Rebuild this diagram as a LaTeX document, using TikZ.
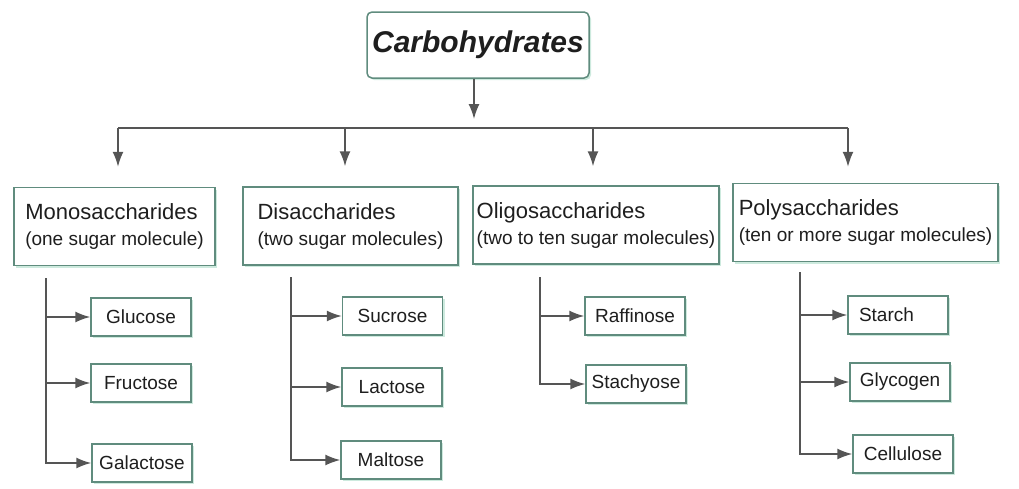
\documentclass[tikz,border=0pt]{standalone}
\usepackage{fontspec}
\setmainfont{Liberation Sans}
\usepackage{xcolor}
\usetikzlibrary{positioning, arrows.meta, shadows}
\definecolor{boxline}{RGB}{96,140,126}
\definecolor{shade}{RGB}{205,234,222}
\definecolor{wire}{RGB}{85,85,85}
\definecolor{ink}{RGB}{30,30,30}
\tikzset{
	sbox/.style={draw=boxline, line width=1.5pt, fill=white, text=ink, inner sep=0pt,
		drop shadow={shadow xshift=2pt, shadow yshift=-2pt, fill=shade, opacity=1}},
	catbox/.style={sbox, align=left, minimum height=78pt,
		font=\fontsize{19}{26}\selectfont},
	leafbox/.style={sbox, minimum width=100pt, minimum height=38pt,
		font=\fontsize{19}{22}\selectfont},
	wireline/.style={draw=wire, line width=1.5pt},
	arr/.style={wireline, -{Latex[length=15pt,width=11pt]}}
}
\newcommand{\bigname}[1]{{\fontsize{22}{26}\selectfont #1}}

\begin{document}
\begin{tikzpicture}[x=1pt, y=-1pt]
				\useasboundingbox (0,0) rectangle (1019,488);
				
				% top box
				\node[sbox, rounded corners=5pt, minimum width=222pt, minimum height=66pt,
					font=\fontsize{30}{34}\selectfont\bfseries\itshape] (carb) at (478,45) {Carbohydrates};
				
				% groups
				\node[catbox, minimum width=201pt] (mono) at (114.5,226.5) {\bigname{Monosaccharides}\\(one sugar molecule)};
				\node[catbox, minimum width=215pt] (di) at (350.5,226) {\bigname{Disaccharides}\\(two sugar molecules)};
				\node[catbox, minimum width=246pt] (oligo) at (596,225) {\bigname{Oligosaccharides}\\(two to ten sugar molecules)};
				\node[catbox, minimum width=265pt] (poly) at (865.5,222.5) {\bigname{Polysaccharides}\\(ten or more sugar molecules)};
				
				% sugars
				\node[leafbox] (glu) at (141,317) {Glucose};
				\node[leafbox] (fru) at (141,383) {Fructose};
				\node[leafbox] (gal) at (142,463) {Galactose};
				
				\node[leafbox] (suc) at (392.5,316) {Sucrose};
				\node[leafbox] (lac) at (392,387) {Lactose};
				\node[leafbox] (mal) at (391,460) {Maltose};
				
				\node[leafbox] (raf) at (635,316) {Raffinose};
				\node[leafbox] (sty) at (636,384) {Stachyose};
				
				\node[leafbox, text width=78pt, align=left] (sta) at (898,315) {Starch};
				\node[leafbox] (gly) at (900,382) {Glycogen};
				\node[leafbox] (cel) at (903,454) {Cellulose};
				
				% split
				\coordinate (hub) at (474,128);
				\coordinate (hl) at (118,128);
				\coordinate (hr) at (848,128);
				\draw[arr, shorten >=9pt] (carb.south -| hub) -- (hub);
				\draw[wireline] (hl) -- (hr);
				
				\coordinate (d1) at (118,128);
				\coordinate (d2) at (345,128);
				\coordinate (d3) at (593,128);
				\coordinate (d4) at (848,128);
				\draw[arr, shorten >=20pt] (d1) -- (d1 |- mono.north);
				\draw[arr, shorten >=20pt] (d2) -- (d2 |- di.north);
				\draw[arr, shorten >=19pt] (d3) -- (d3 |- oligo.north);
				\draw[arr, shorten >=16pt] (d4) -- (d4 |- poly.north);
				
				% spines
				\coordinate (s1) at (46,278);
				\coordinate (s2) at (291,277);
				\coordinate (s3) at (540,277);
				\coordinate (s4) at (800,272);
				
				\draw[arr] (s1) |- (gal.west);
				\draw[arr] (s1 |- glu.west) -- (glu.west);
				\draw[arr] (s1 |- fru.west) -- (fru.west);
				
				\draw[arr] (s2) |- (mal.west);
				\draw[arr] (s2 |- suc.west) -- (suc.west);
				\draw[arr] (s2 |- lac.west) -- (lac.west);
				
				\draw[arr] (s3) |- (sty.west);
				\draw[arr] (s3 |- raf.west) -- (raf.west);
				
				\draw[arr] (s4) |- (cel.west);
				\draw[arr] (s4 |- sta.west) -- (sta.west);
				\draw[arr] (s4 |- gly.west) -- (gly.west);
\end{tikzpicture}
\end{document}
